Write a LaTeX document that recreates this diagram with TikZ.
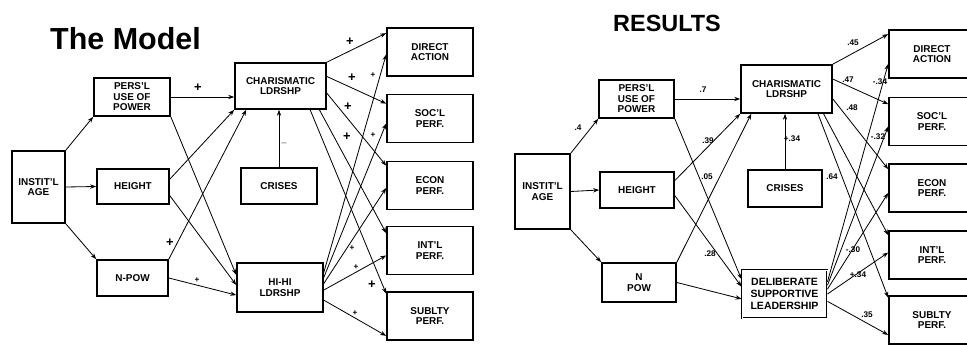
\documentclass[tikz,border=0pt]{standalone}
\usepackage{fontspec}
\setmainfont{Liberation Sans}
\usetikzlibrary{calc}
\usetikzlibrary{arrows.meta}

\tikzset{
  box/.style={draw, line width=1.4pt, inner sep=0pt, align=center,
    font=\fontsize{8.5}{9}\selectfont\bfseries},
  outbox/.style={box, minimum width=25.8mm, minimum height=14.4mm},
  arr/.style={-{Stealth[length=1.8mm, width=1.3mm]}, line width=0.7pt},
  sgn/.style={font=\fontsize{11}{11}\selectfont\bfseries, inner sep=0.5pt},
  num/.style={font=\fontsize{7}{7}\selectfont\bfseries, inner sep=0.5pt},
}

\begin{document}
\begin{tikzpicture}[x=0.3mm, y=-0.3mm]
\useasboundingbox (0,0) rectangle (967,345);

% ---- left panel: the model
\node[font=\fontsize{26}{26}\selectfont\bfseries, anchor=base west, inner sep=0pt] (titleL) at (50,50) {The Model};

\node[box, minimum width=15.9mm, minimum height=21.6mm] (ageL) at (38.5,187) {INSTIT'L\\AGE};
\node[box, minimum width=22.8mm, minimum height=11.4mm] (persL) at (132,97) {PERS'L\\USE OF\\POWER};
\node[box, minimum width=21.6mm, minimum height=10.5mm] (heightL) at (133,186.5) {HEIGHT};
\node[box, minimum width=21.3mm, minimum height=10.8mm] (npowL) at (132.5,278) {N-POW};
\node[box, minimum width=27.3mm, minimum height=13.8mm] (charL) at (280.5,86) {CHARISMATIC\\LDRSHP};
\node[box, minimum width=22.8mm, minimum height=10.8mm] (crisesL) at (279,186) {CRISES};
\node[box, minimum width=25.8mm, minimum height=14.7mm] (hihiL) at (280,287.5) {HI-HI\\LDRSHP};

\node[outbox] (directL) at (430,52) {DIRECT\\ACTION};
\node[outbox] (soclL) at (430,118.5) {SOC'L\\PERF.};
\node[outbox] (econL) at (430,185.5) {ECON\\PERF.};
\node[outbox] (intlL) at (430,250.5) {INT'L\\PERF.};
\node[outbox] (sublL) at (430,316) {SUBLTY\\PERF.};

\draw[arr] (ageL.north east) -- (persL.south west);
\draw[arr] (ageL.east) -- (heightL.west);
\draw[arr] (ageL.south east) -- (npowL.north west);
\draw[arr] (persL.east) -- (persL.east -| charL.west);
\draw[arr] (persL.south east) -- ($(hihiL.north west)!0.25!(hihiL.south west)$);
\draw[arr] ($(heightL.north east)!0.3!(heightL.south east)$) -- (charL.south west);
\draw[arr] ($(heightL.north east)!0.75!(heightL.south east)$) -- ($(hihiL.north west)!0.45!(hihiL.south west)$);
\draw[arr] (npowL.north east) -- ($(charL.south west)!0.13!(charL.south east)$);
\draw[arr] (npowL.east) -- ($(hihiL.north west)!0.65!(hihiL.south west)$);
\draw[arr] (crisesL.north) -- (crisesL.north |- charL.south);

\foreach \o/\s/\t in {directL/0/0.12, soclL/0.3/0.2, econL/0.65/0.1}
  \draw[arr] ($(charL.north east)!\s!(charL.south east)$) -- ($(\o.north west)!\t!(\o.south west)$);
\foreach \o/\s/\t in {intlL/0.08/0.15, sublL/0.18/0.05}
  \draw[arr] ($(charL.south east)!\s!(charL.south west)$) -- ($(\o.north west)!\t!(\o.south west)$);
\foreach \o/\s/\t in {directL/0.2/0.55, soclL/0.3/0.6, econL/0.42/0.55, intlL/0.55/0.6, sublL/0.75/0.9}
  \draw[arr] ($(hihiL.north east)!\s!(hihiL.south east)$) -- ($(\o.north west)!\t!(\o.south west)$);

\node[sgn] (s1) at (198,88) {+};
\node[sgn] (s2) at (170,243) {+};
\node[num] (s3) at (197,280) {+};
\node[num] (s4) at (284,143) {$-$};
\node[sgn] (s5) at (350,42) {+};
\node[sgn] (s6) at (352,78) {+};
\node[sgn] (s7) at (348,107) {+};
\node[sgn] (s8) at (347,137) {+};
\node[num] (s9) at (373,75) {+};
\node[num] (s10) at (373,135) {+};
\node[num] (s11) at (352,248) {+};
\node[num] (s12) at (356,267) {+};
\node[sgn] (s13) at (372,285) {+};
\node[num] (s14) at (355,313) {+};

% ---- right panel: results
\node[font=\fontsize{20}{20}\selectfont\bfseries, anchor=base west, inner sep=0pt] (titleR) at (613,32) {RESULTS};

\node[box, minimum width=16.5mm, minimum height=22.5mm] (ageR) at (542.5,191.5) {INSTIT'L\\AGE};
\node[box, minimum width=22.5mm, minimum height=11.4mm] (persR) at (636.5,99) {PERS'L\\USE OF\\POWER};
\node[box, minimum width=22.2mm, minimum height=10.8mm] (heightR) at (637,190) {HEIGHT};
\node[box, minimum width=22.2mm, minimum height=11.7mm] (npowR) at (639,282.5) {N\\POW};
\node[box, minimum width=27.3mm, minimum height=14.4mm] (charR) at (786.5,89) {CHARISMATIC\\LDRSHP};
\node[box, minimum width=22.2mm, minimum height=11.1mm] (crisesR) at (785,188.5) {CRISES};
\node[box, double, double distance=0.8pt, line width=0.8pt, minimum width=25.5mm, minimum height=14.4mm,
  font=\fontsize{9}{10.5}\selectfont\bfseries] (dslR) at (784.5,294) {DELIBERATE\\SUPPORTIVE\\LEADERSHIP};

\node[outbox] (directR) at (932,54) {DIRECT\\ACTION};
\node[outbox] (soclR) at (932,121.5) {SOC'L\\PERF.};
\node[outbox] (econR) at (932,188) {ECON\\PERF.};
\node[outbox] (intlR) at (932,255) {INT'L\\PERF.};
\node[outbox] (sublR) at (932,320) {SUBLTY\\PERF.};

\draw[arr] (ageR.north east) -- (persR.south west);
\draw[arr] (ageR.east) -- (heightR.west);
\draw[arr] (ageR.south east) -- (npowR.north west);
\draw[arr] (persR.east) -- (persR.east -| charR.west);
\draw[arr] (persR.south east) -- ($(dslR.north west)!0.2!(dslR.south west)$);
\draw[arr] ($(heightR.north east)!0.25!(heightR.south east)$) -- (charR.south west);
\draw[arr] ($(heightR.north east)!0.65!(heightR.south east)$) -- ($(dslR.north west)!0.35!(dslR.south west)$);
\draw[arr] (npowR.north east) -- ($(charR.south west)!0.12!(charR.south east)$);
\draw[arr] (npowR.east) -- ($(dslR.north west)!0.6!(dslR.south west)$);
\draw[arr] (crisesR.north) -- (crisesR.north |- charR.south);

\foreach \o/\s/\t in {directR/0/0.1, soclR/0.3/0.15, econR/0.7/0.12}
  \draw[arr] ($(charR.north east)!\s!(charR.south east)$) -- ($(\o.north west)!\t!(\o.south west)$);
\foreach \o/\s/\t in {intlR/0.1/0.1, sublR/0.16/0.05}
  \draw[arr] ($(charR.south east)!\s!(charR.south west)$) -- ($(\o.north west)!\t!(\o.south west)$);
\foreach \o/\s/\t in {directR/0.25/0.7, soclR/0.32/0.6, econR/0.4/0.6, intlR/0.5/0.45, sublR/0.65/0.8}
  \draw[arr] ($(dslR.north east)!\s!(dslR.south east)$) -- ($(\o.north west)!\t!(\o.south west)$);

\node[num] (n1) at (578,128) {.4};
\node[num] (n2) at (703,90) {.7};
\node[num] (n3) at (708,141) {.39};
\node[num] (n4) at (707,177) {.05};
\node[num] (n5) at (710,254) {.28};
\node[num] (n6) at (792,139) {+.34};
\node[num] (n7) at (853,43) {.45};
\node[num] (n8) at (848,80) {.47};
\node[num] (n9) at (880,82) {-.34};
\node[num] (n10) at (852,108) {.48};
\node[num] (n11) at (878,137) {-.32};
\node[num] (n12) at (832,177) {.64};
\node[num] (n13) at (853,250) {-.30};
\node[num] (n14) at (858,275) {+.34};
\node[num] (n15) at (867,315) {.35};
\end{tikzpicture}
\end{document}
